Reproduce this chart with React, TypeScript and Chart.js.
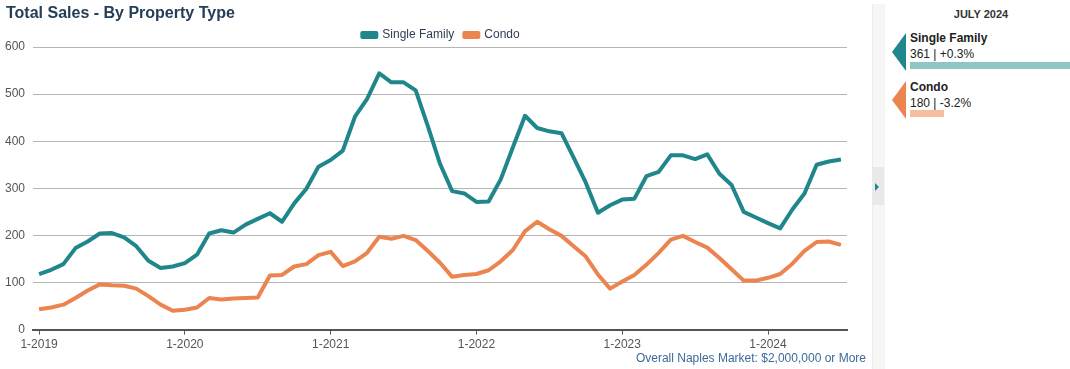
import React, { useEffect, useRef } from "react";
import { Chart, registerables } from "chart.js";

Chart.register(...registerables);

const startYear = 2019;
const monthCount = 67;
const labels: string[] = Array.from({ length: monthCount }, (_, i) => `${(i % 12) + 1}-${startYear + Math.floor(i / 12)}`);

const singleFamily = [
  118, 127, 139, 173, 187, 204, 205, 196, 177, 146, 131, 134,
  141, 159, 204, 211, 206, 223, 235, 247, 229, 268, 299, 346,
  360, 380, 452, 490, 544, 525, 525, 508, 432, 352, 294, 289,
  271, 272, 319, 387, 454, 428, 421, 417, 365, 312, 248, 264,
  276, 278, 326, 335, 370, 370, 362, 372, 331, 307, 250, 238,
  226, 215, 255, 289, 350, 357, 361,
];

const condo = [
  43, 47, 53, 67, 83, 96, 94, 93, 87, 71, 53, 40,
  42, 47, 67, 64, 66, 67, 68, 115, 116, 134, 139, 158,
  165, 135, 145, 163, 197, 193, 199, 190, 167, 142, 112, 116,
  118, 126, 145, 169, 209, 229, 213, 199, 177, 155, 117, 87,
  102, 116, 138, 163, 191, 199, 186, 174, 152, 128, 104, 104,
  110, 118, 140, 167, 186, 187, 180,
];

const seriesNames = ["Single Family", "Condo"];
const yTicks = [0, 100, 200, 300, 400, 500, 600];
const panelMonth = "JULY 2024";
const panelValues = ["361 | +0.3%", "180 | -3.2%"];

const TEAL = "#1f878b";
const ORANGE = "#ec8450";
const FONT = "'Liberation Sans', Arial, Helvetica, sans-serif";

export default function App() {
  const ref = useRef<HTMLCanvasElement | null>(null);

  useEffect(() => {
    document.body.style.margin = "0";
    if (!ref.current) return;
    const chart = new Chart(ref.current, {
      type: "line",
      data: {
        labels,
        datasets: [
          {
            label: seriesNames[0],
            data: singleFamily,
            borderColor: TEAL,
            backgroundColor: TEAL,
            borderWidth: 4,
            pointRadius: 0,
            tension: 0,
            borderJoinStyle: "round",
          },
          {
            label: seriesNames[1],
            data: condo,
            borderColor: ORANGE,
            backgroundColor: ORANGE,
            borderWidth: 4,
            pointRadius: 0,
            tension: 0,
            borderJoinStyle: "round",
          },
        ],
      },
      options: {
        animation: false,
        responsive: false,
        maintainAspectRatio: false,
        layout: { padding: { top: 19, left: 5, right: 3, bottom: 5 } },
        plugins: {
          legend: {
            display: true,
            position: "top",
            maxHeight: 28,
            labels: {
              boxWidth: 14,
              boxHeight: 4,
              padding: 10,
              color: "#2c3e55",
              font: { family: FONT, size: 12 },
            },
          },
          tooltip: { enabled: false },
        },
        scales: {
          x: {
            type: "category",
            offset: true,
            grid: {
              display: true,
              drawOnChartArea: false,
              drawTicks: true,
              tickLength: 5,
              color: (ctx: any) => (ctx.index % 12 === 0 ? "#555" : "rgba(0,0,0,0)"),
            },
            border: { display: true, color: "#555", width: 2 },
            ticks: {
              autoSkip: false,
              maxRotation: 0,
              padding: 3,
              color: "#555",
              font: { family: FONT, size: 12 },
              callback: (_v: any, idx: number) => (idx % 12 === 0 ? labels[idx] : ""),
            },
          },
          y: {
            min: yTicks[0],
            max: yTicks[yTicks.length - 1],
            afterBuildTicks: (axis: any) => {
              axis.ticks = yTicks.map((v) => ({ value: v }));
            },
            afterFit: (axis: any) => {
              axis.width = 28;
            },
            grid: { color: "#b5b5b5", lineWidth: 1, drawTicks: false },
            border: { display: false },
            ticks: {
              padding: 8,
              color: "#555",
              font: { family: FONT, size: 12 },
            },
          },
          ySpacer: {
            type: "linear",
            position: "right",
            display: true,
            min: 0,
            max: 600,
            afterFit: (axis: any) => {
              axis.width = 30;
            },
            grid: { display: false, drawOnChartArea: false },
            border: { display: false },
            ticks: { display: false },
          },
        },
      },
    });
    return () => chart.destroy();
  }, []);

  const arrow = (color: string, top: number) => (
    <div
      style={{
        position: "absolute",
        left: 892,
        top,
        width: 14,
        height: 38,
        background: color,
        clipPath: "polygon(100% 0, 0 50%, 100% 100%)",
      }}
    />
  );

  return (
    <div style={{ position: "absolute", left: 0, top: 0, width: 1070, height: 369, background: "#fff", fontFamily: FONT, overflow: "hidden" }}>
      <canvas ref={ref} width={880} height={360} style={{ position: "absolute", left: 0, top: 0 }} />
      <div style={{ position: "absolute", left: 6, top: 4, fontSize: 16, fontWeight: "bold", color: "#253d58", whiteSpace: "nowrap" }}>
        Total Sales - By Property Type
      </div>
      <div style={{ position: "absolute", right: 204, top: 351, fontSize: 12, color: "#3b6a9b", whiteSpace: "nowrap" }}>
        Overall Naples Market: $2,000,000 or More
      </div>
      {/* side strip */}
      <div style={{ position: "absolute", left: 872, top: 4, width: 12, height: 365, background: "#f6f6f6", borderLeft: "1px solid #ececec" }} />
      <div style={{ position: "absolute", left: 872, top: 167, width: 12, height: 38, background: "#e9e9e9" }} />
      <div style={{ position: "absolute", left: 875, top: 183, width: 0, height: 0, borderTop: "4px solid transparent", borderBottom: "4px solid transparent", borderLeft: "4px solid " + TEAL }} />
      {/* panel */}
      <div style={{ position: "absolute", left: 905, top: 8, width: 152, textAlign: "center", fontSize: 11, fontWeight: "bold", color: "#333" }}>
        {panelMonth}
      </div>
      {arrow(TEAL, 33)}
      <div style={{ position: "absolute", left: 910, top: 31, fontSize: 12, fontWeight: "bold", color: "#222", whiteSpace: "nowrap" }}>{seriesNames[0]}</div>
      <div style={{ position: "absolute", left: 910, top: 47, fontSize: 12, color: "#222", whiteSpace: "nowrap" }}>{panelValues[0]}</div>
      <div style={{ position: "absolute", left: 910, top: 62, width: 160, height: 7, background: "#8ec5c7" }} />
      {arrow(ORANGE, 81)}
      <div style={{ position: "absolute", left: 910, top: 80, fontSize: 12, fontWeight: "bold", color: "#222", whiteSpace: "nowrap" }}>{seriesNames[1]}</div>
      <div style={{ position: "absolute", left: 910, top: 96, fontSize: 12, color: "#222", whiteSpace: "nowrap" }}>{panelValues[1]}</div>
      <div style={{ position: "absolute", left: 910, top: 110, width: 34, height: 7, background: "#f6bd9f" }} />
    </div>
  );
}
